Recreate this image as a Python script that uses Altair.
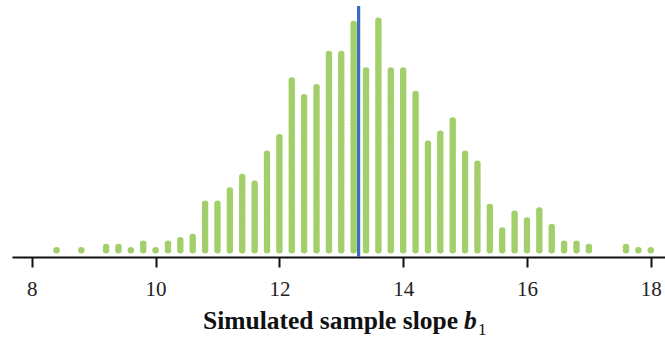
import altair as alt
import pandas as pd

# Bin centres of the simulated slopes and the number of dots stacked in each
slope_bins = [8.4, 8.8, 9.2, 9.4, 9.6, 9.8, 10.0, 10.2, 10.4, 10.6,
              10.8, 11.0, 11.2, 11.4, 11.6, 11.8, 12.0, 12.2, 12.4, 12.6,
              12.8, 13.0, 13.2, 13.4, 13.6, 13.8, 14.0, 14.2, 14.4, 14.6,
              14.8, 15.0, 15.2, 15.4, 15.6, 15.8, 16.0, 16.2, 16.4, 16.6,
              16.8, 17.0, 17.6, 17.8, 18.0]
dot_counts = [1, 1, 2, 2, 1, 3, 1, 3, 4, 5,
              15, 15, 19, 23, 21, 30, 35, 52, 47, 50,
              60, 60, 69, 55, 70, 55, 55, 48, 33, 36,
              40, 30, 27, 14, 7, 12, 10, 13, 8, 3,
              3, 2, 2, 1, 1]

observed_slope = 13.28
line_bottom = -1
line_top = 74.4

tick_values = [8, 10, 12, 14, 16, 18]
x_domain = [7.68, 18.23]
y_domain = [-1, 76.2]

rows = []
for b, n in zip(slope_bins, dot_counts):
    for k in range(1, n + 1):
        rows.append({"slope": b, "stack": k})
dots_df = pd.DataFrame(rows)
line_df = pd.DataFrame({"slope": [observed_slope], "y0": [line_bottom], "y1": [line_top]})

GREEN = "#a2cf6a"
BLUE = "#3a6cbf"

xscale = alt.Scale(domain=x_domain, nice=False, zero=False)
yscale = alt.Scale(domain=y_domain, nice=False, zero=False)

xaxis = alt.Axis(values=tick_values, title=None, grid=False,
                 domainColor="#111", domainWidth=2,
                 tickColor="#111", tickWidth=2, tickSize=10,
                 labelFont="Liberation Serif", labelFontSize=21,
                 labelColor="#222", labelPadding=11, format="d")

dots = alt.Chart(dots_df).mark_circle(color=GREEN, opacity=1, size=42).encode(
    x=alt.X("slope:Q", scale=xscale, axis=xaxis),
    y=alt.Y("stack:Q", scale=yscale, axis=None),
)

line = alt.Chart(line_df).mark_rule(color=BLUE, strokeWidth=3.2).encode(
    x=alt.X("slope:Q", scale=xscale),
    y=alt.Y("y0:Q", scale=yscale),
    y2="y1:Q",
)

title_main = alt.Chart(pd.DataFrame({"t": ["Simulated sample slope"]})).mark_text(
    font="Liberation Serif", fontSize=25.5, fontWeight="bold", color="#111",
    align="right", baseline="alphabetic"
).encode(text="t:N", x=alt.value(446), y=alt.value(329))

title_b = alt.Chart(pd.DataFrame({"t": ["b"]})).mark_text(
    font="Liberation Serif", fontSize=25.5, fontWeight="bold", fontStyle="italic",
    color="#111", align="left", baseline="alphabetic"
).encode(text="t:N", x=alt.value(452), y=alt.value(329))

title_sub = alt.Chart(pd.DataFrame({"t": ["1"]})).mark_text(
    font="Liberation Serif", fontSize=17, color="#111",
    align="left", baseline="alphabetic"
).encode(text="t:N", x=alt.value(466), y=alt.value(335))

chart = alt.layer(dots, line, title_main, title_b, title_sub).properties(
    width=653, height=257,
    autosize=alt.AutoSizeParams(type="none"),
    padding={"left": 12, "top": 0, "right": 0, "bottom": 86},
    background="white",
).configure_view(stroke=None)

chart.save("out.html", embed_options={"renderer": "svg", "actions": False})
